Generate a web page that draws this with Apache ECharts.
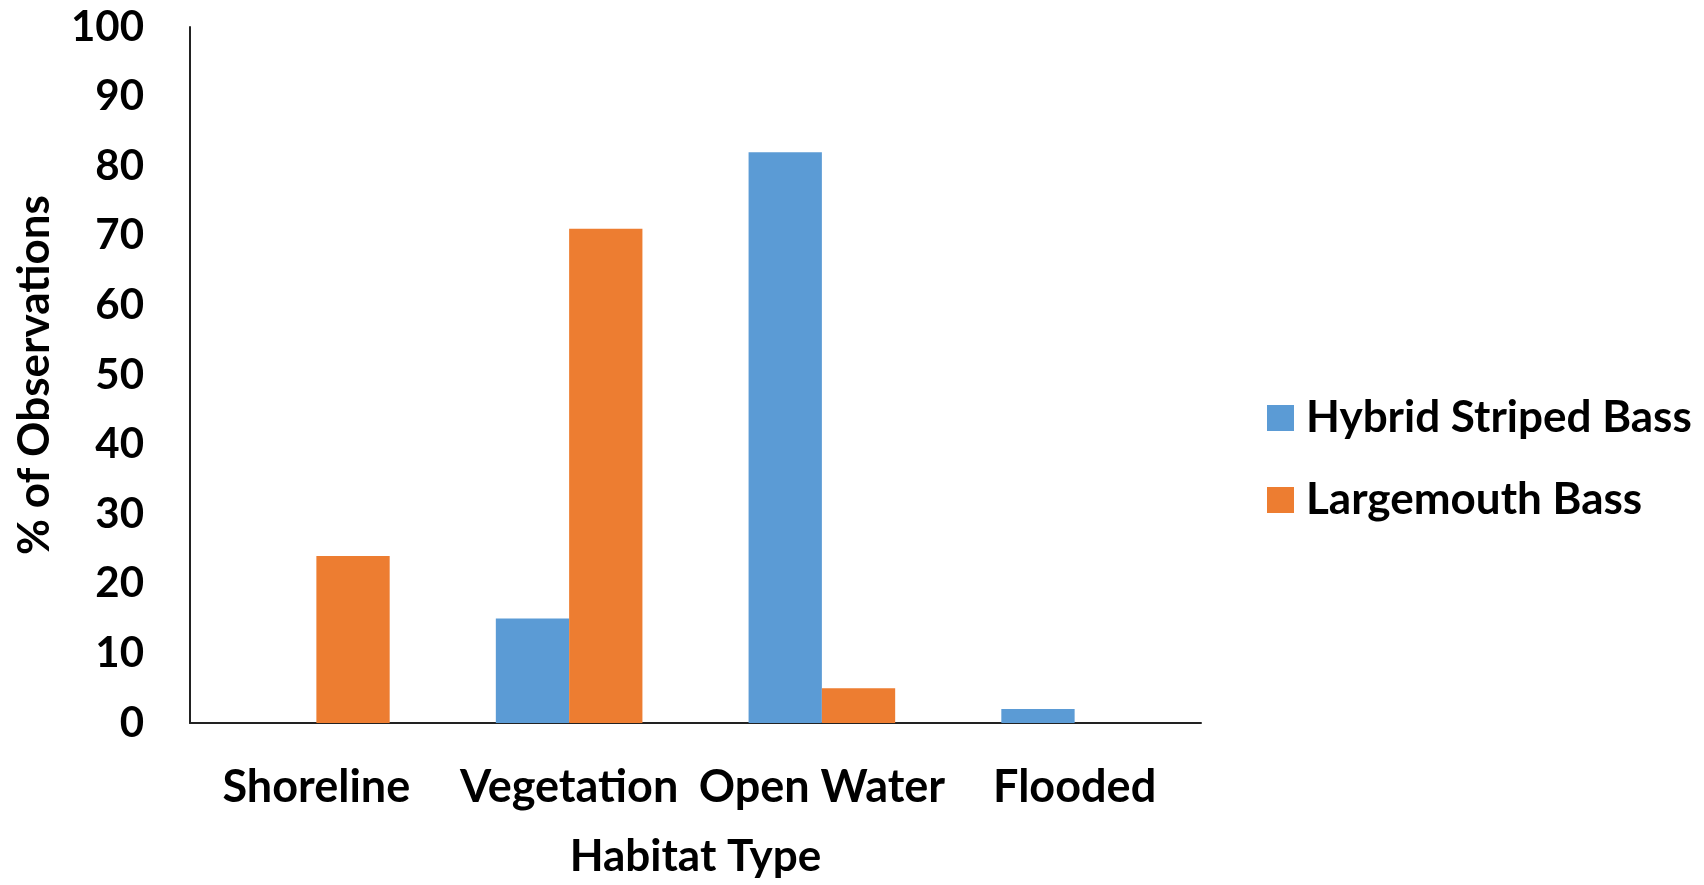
<!DOCTYPE html>
<html>
<head>
<meta charset="utf-8">
<script src="https://cdn.jsdelivr.net/npm/echarts@6/dist/echarts.min.js"></script>
<style>
  html, body { margin: 0; padding: 0; background: #ffffff; }
  #chart { width: 1704px; height: 885px; }
</style>
</head>
<body>
<div id="chart"></div>
<script>
// Habitat use by species, percent of observations
const habitats = ['Shoreline', 'Vegetation', 'Open Water', 'Flooded'];
const hybridStripedBass = [0, 15, 82, 2];
const largemouthBass = [24, 71, 5, 0];
const yTicks = { min: 0, max: 100, interval: 10 };

const FONT = 'Lato';
const textBase = { fontFamily: FONT, fontWeight: 'bold', color: '#000000', fontSize: 45, lineHeight: 46 };

const chart = echarts.init(document.getElementById('chart'), null, { renderer: 'canvas' });

chart.setOption({
  animation: false,
  backgroundColor: '#ffffff',
  grid: { left: 190, right: 503, top: 27, bottom: 154, containLabel: false },
  legend: {
    orient: 'vertical',
    left: 1267,
    top: 395,
    padding: 0,
    itemWidth: 27,
    itemHeight: 26,
    itemGap: 36,
    icon: 'rect',
    textStyle: Object.assign({}, textBase, { fontSize: 44, padding: [0, 0, 0, 7] }),
    data: ['Hybrid Striped Bass', 'Largemouth Bass']
  },
  xAxis: {
    type: 'category',
    data: habitats,
    name: 'Habitat Type',
    nameLocation: 'middle',
    nameGap: 111,
    nameTextStyle: Object.assign({}, textBase, { fontSize: 44 }),
    axisLine: { show: true, lineStyle: { color: '#222222', width: 2 } },
    axisTick: { show: false },
    axisLabel: Object.assign({}, textBase, { margin: 41, interval: 0 }),
    splitLine: { show: false }
  },
  yAxis: {
    type: 'value',
    min: yTicks.min,
    max: yTicks.max,
    interval: yTicks.interval,
    name: '% of Observations',
    nameLocation: 'middle',
    nameGap: 132,
    nameRotate: 90,
    nameTextStyle: Object.assign({}, textBase, { fontSize: 44 }),
    axisLine: { show: true, lineStyle: { color: '#222222', width: 2 } },
    axisTick: { show: false },
    axisLabel: Object.assign({}, textBase, { fontSize: 42, lineHeight: 42, margin: 46, padding: [8, 0, 0, 0] }),
    splitLine: { show: false }
  },
  series: [
    {
      name: 'Hybrid Striped Bass',
      type: 'bar',
      data: hybridStripedBass,
      barGap: '0%',
      barCategoryGap: '42%',
      itemStyle: { color: '#5B9BD5' }
    },
    {
      name: 'Largemouth Bass',
      type: 'bar',
      data: largemouthBass,
      barGap: '0%',
      barCategoryGap: '42%',
      itemStyle: { color: '#ED7D31' }
    }
  ]
});
</script>
</body>
</html>
